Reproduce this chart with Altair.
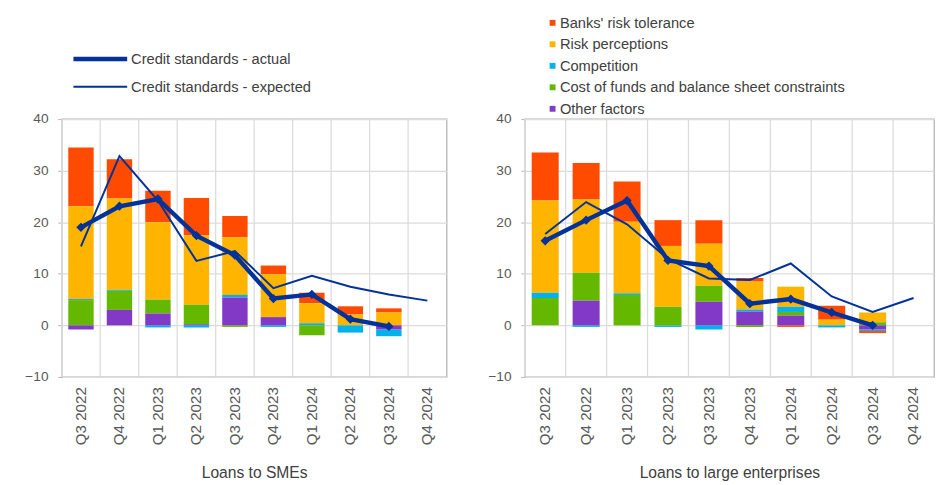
import altair as alt
import pandas as pd

quarters = ["Q3 2022", "Q4 2022", "Q1 2023", "Q2 2023", "Q3 2023",
            "Q4 2023", "Q1 2024", "Q2 2024", "Q3 2024", "Q4 2024"]
factors = ["Banks' risk tolerance", "Risk perceptions", "Competition",
           "Cost of funds and balance sheet constraints", "Other factors"]
factor_colors = ["#FF4B00", "#FFB400", "#00B1EA", "#65B800", "#8139C6"]
stack_rank = [4, 3, 2, 1, 0]
series_names = ["Credit standards - actual", "Credit standards - expected"]

# Loans to SMEs
sme_risk_tol = [11.4, 7.6, 6.1, 7.3, 4.1, 1.7, 2.0, 1.6, 0.8]
sme_risk_perc = [18.0, 17.7, 15.0, 13.4, 11.2, 8.3, 3.9, 2.1, 2.5]
sme_comp = [0.2, 0.2, -0.4, -0.4, 0.5, -0.3, 0.4, -1.4, -1.3]
sme_cost = [4.9, 3.7, 2.7, 3.8, -0.3, 0.0, -1.9, 0.0, 0.0]
sme_other = [-0.8, 3.0, 2.3, 0.2, 5.4, 1.6, 0.0, 0.0, -0.8]
sme_actual = [19.0, 23.1, 24.5, 17.4, 13.6, 5.2, 6.0, 1.2, -0.2]
sme_expected = [15.3, 32.8, 24.2, 12.5, 14.4, 7.2, 9.6, 7.5, 6.0, 4.8]

# Loans to large enterprises
le_risk_tol = [9.3, 7.1, 7.8, 5.0, 4.6, 0.7, -0.3, 2.7, -0.4]
le_risk_perc = [17.9, 14.2, 13.9, 11.8, 8.1, 5.4, 3.9, 1.1, 1.9]
le_comp = [1.0, -0.3, 0.3, -0.3, -0.8, 0.4, 1.0, -0.4, -0.3]
le_cost = [5.3, 5.4, 5.9, 3.6, 3.1, -0.3, 0.7, 0.0, 0.6]
le_other = [0.0, 4.8, 0.0, 0.0, 4.6, 2.7, 1.9, 0.0, -0.8]
le_actual = [16.4, 20.4, 24.2, 12.6, 11.5, 4.2, 5.1, 2.5, 0.0]
le_expected = [17.7, 23.9, 19.6, 12.9, 9.1, 8.8, 12.0, 5.6, 2.6, 5.3]

FONT = "Arial, Liberation Sans, sans-serif"
LINE_COLOR = "#003299"


def panel(comps, actual, expected, title, width, show_bar_legend, show_line_legend):
    rows = []
    for i in range(len(comps[0])):
        for f, vals, r in zip(factors, comps, stack_rank):
            rows.append({"quarter": quarters[i], "factor": f, "value": vals[i], "rank": r})
    bars_df = pd.DataFrame(rows)
    lrows = []
    for i, v in enumerate(actual):
        lrows.append({"quarter": quarters[i], "series": series_names[0], "value": v})
    for i, v in enumerate(expected):
        lrows.append({"quarter": quarters[i], "series": series_names[1], "value": v})
    lines_df = pd.DataFrame(lrows)
    act_df = lines_df[lines_df["series"] == series_names[0]]
    grid_df = pd.DataFrame({"quarter": quarters})

    xscale = alt.Scale(domain=quarters, paddingInner=0, paddingOuter=0)
    yscale = alt.Scale(domain=[-10, 40])

    xaxis = alt.Axis(title=title, labelAngle=-90, ticks=False, domain=False,
                     grid=False, labelFontSize=15.5, labelFont=FONT,
                     labelColor="#595959", labelPadding=10,
                     titleFontSize=16, titleFont=FONT,
                     titleFontWeight="normal", titleColor="#404040",
                     titlePadding=21, labelBaseline="middle")
    yaxis = alt.Axis(title=None, values=[-10, 0, 10, 20, 30, 40],
                     grid=True, gridColor="#dcdcdc", gridWidth=1.3,
                     domain=False, ticks=True, tickSize=4,
                     tickColor="#b3b3b3", labelFontSize=14,
                     labelFont=FONT, labelColor="#595959",
                     labelPadding=10)

    grid = alt.Chart(grid_df).mark_rule(color="#dcdcdc", strokeWidth=1.3).encode(
        x=alt.X("quarter:N", scale=xscale, bandPosition=0, axis=xaxis)
    )

    if show_bar_legend:
        bar_legend = alt.Legend(
            orient="none", legendX=21, legendY=-106, title=None,
            symbolType="square", symbolSize=36, symbolStrokeWidth=0,
            labelFontSize=15, labelFont=FONT, labelColor="#404040",
            labelOffset=0, rowPadding=6, padding=0, labelLimit=400,
        )
    else:
        bar_legend = None

    bars = alt.Chart(bars_df).mark_bar(width={"band": 0.66}).encode(
        x=alt.X("quarter:N", scale=xscale, axis=xaxis),
        y=alt.Y("sum(value):Q", scale=yscale, stack="zero", axis=yaxis),
        color=alt.Color("factor:N", scale=alt.Scale(domain=factors, range=factor_colors),
                        legend=bar_legend),
        order=alt.Order("rank:Q"),
    )

    if show_line_legend:
        line_legend = alt.Legend(
            orient="none", legendX=27, legendY=-74, title=None,
            symbolType="M-2.75,0H2.75", symbolSize=400,
            symbolStrokeColor=LINE_COLOR, symbolFillColor="transparent",
            labelFontSize=15, labelFont=FONT, labelColor="#404040",
            labelOffset=19, rowPadding=8, padding=0, labelLimit=400,
        )
    else:
        line_legend = None

    lines = alt.Chart(lines_df).mark_line(color=LINE_COLOR).encode(
        x=alt.X("quarter:N", scale=xscale, axis=xaxis),
        y=alt.Y("value:Q", scale=yscale, axis=yaxis),
        strokeWidth=alt.StrokeWidth("series:O",
                                    scale=alt.Scale(domain=series_names, range=[4.5, 2]),
                                    legend=line_legend),
        detail="series:N",
    )

    points = alt.Chart(act_df).mark_point(shape="diamond", filled=True, size=90,
                                          color=LINE_COLOR, opacity=1).encode(
        x=alt.X("quarter:N", scale=xscale, axis=xaxis),
        y=alt.Y("value:Q", scale=yscale, axis=yaxis),
    )

    return alt.layer(grid, bars, lines, points).resolve_scale(
        color="independent", strokeWidth="independent"
    ).properties(width=width, height=264)


left = panel([sme_risk_tol, sme_risk_perc, sme_comp, sme_cost, sme_other],
             sme_actual, sme_expected, "Loans to SMEs", 394, False, True)
right = panel([le_risk_tol, le_risk_perc, le_comp, le_cost, le_other],
              le_actual, le_expected, "Loans to large enterprises", 419, True, False)

chart = alt.hconcat(left, right, spacing=40).resolve_scale(
    color="independent", strokeWidth="independent"
).resolve_legend(color="independent", strokeWidth="independent").properties(
    padding={"left": 16, "top": 1, "right": 0, "bottom": 0},
    background="white",
).configure_view(stroke="#b3b3b3", strokeWidth=1.3)

chart.save("out.html", embed_options={"renderer": "svg", "actions": False})
